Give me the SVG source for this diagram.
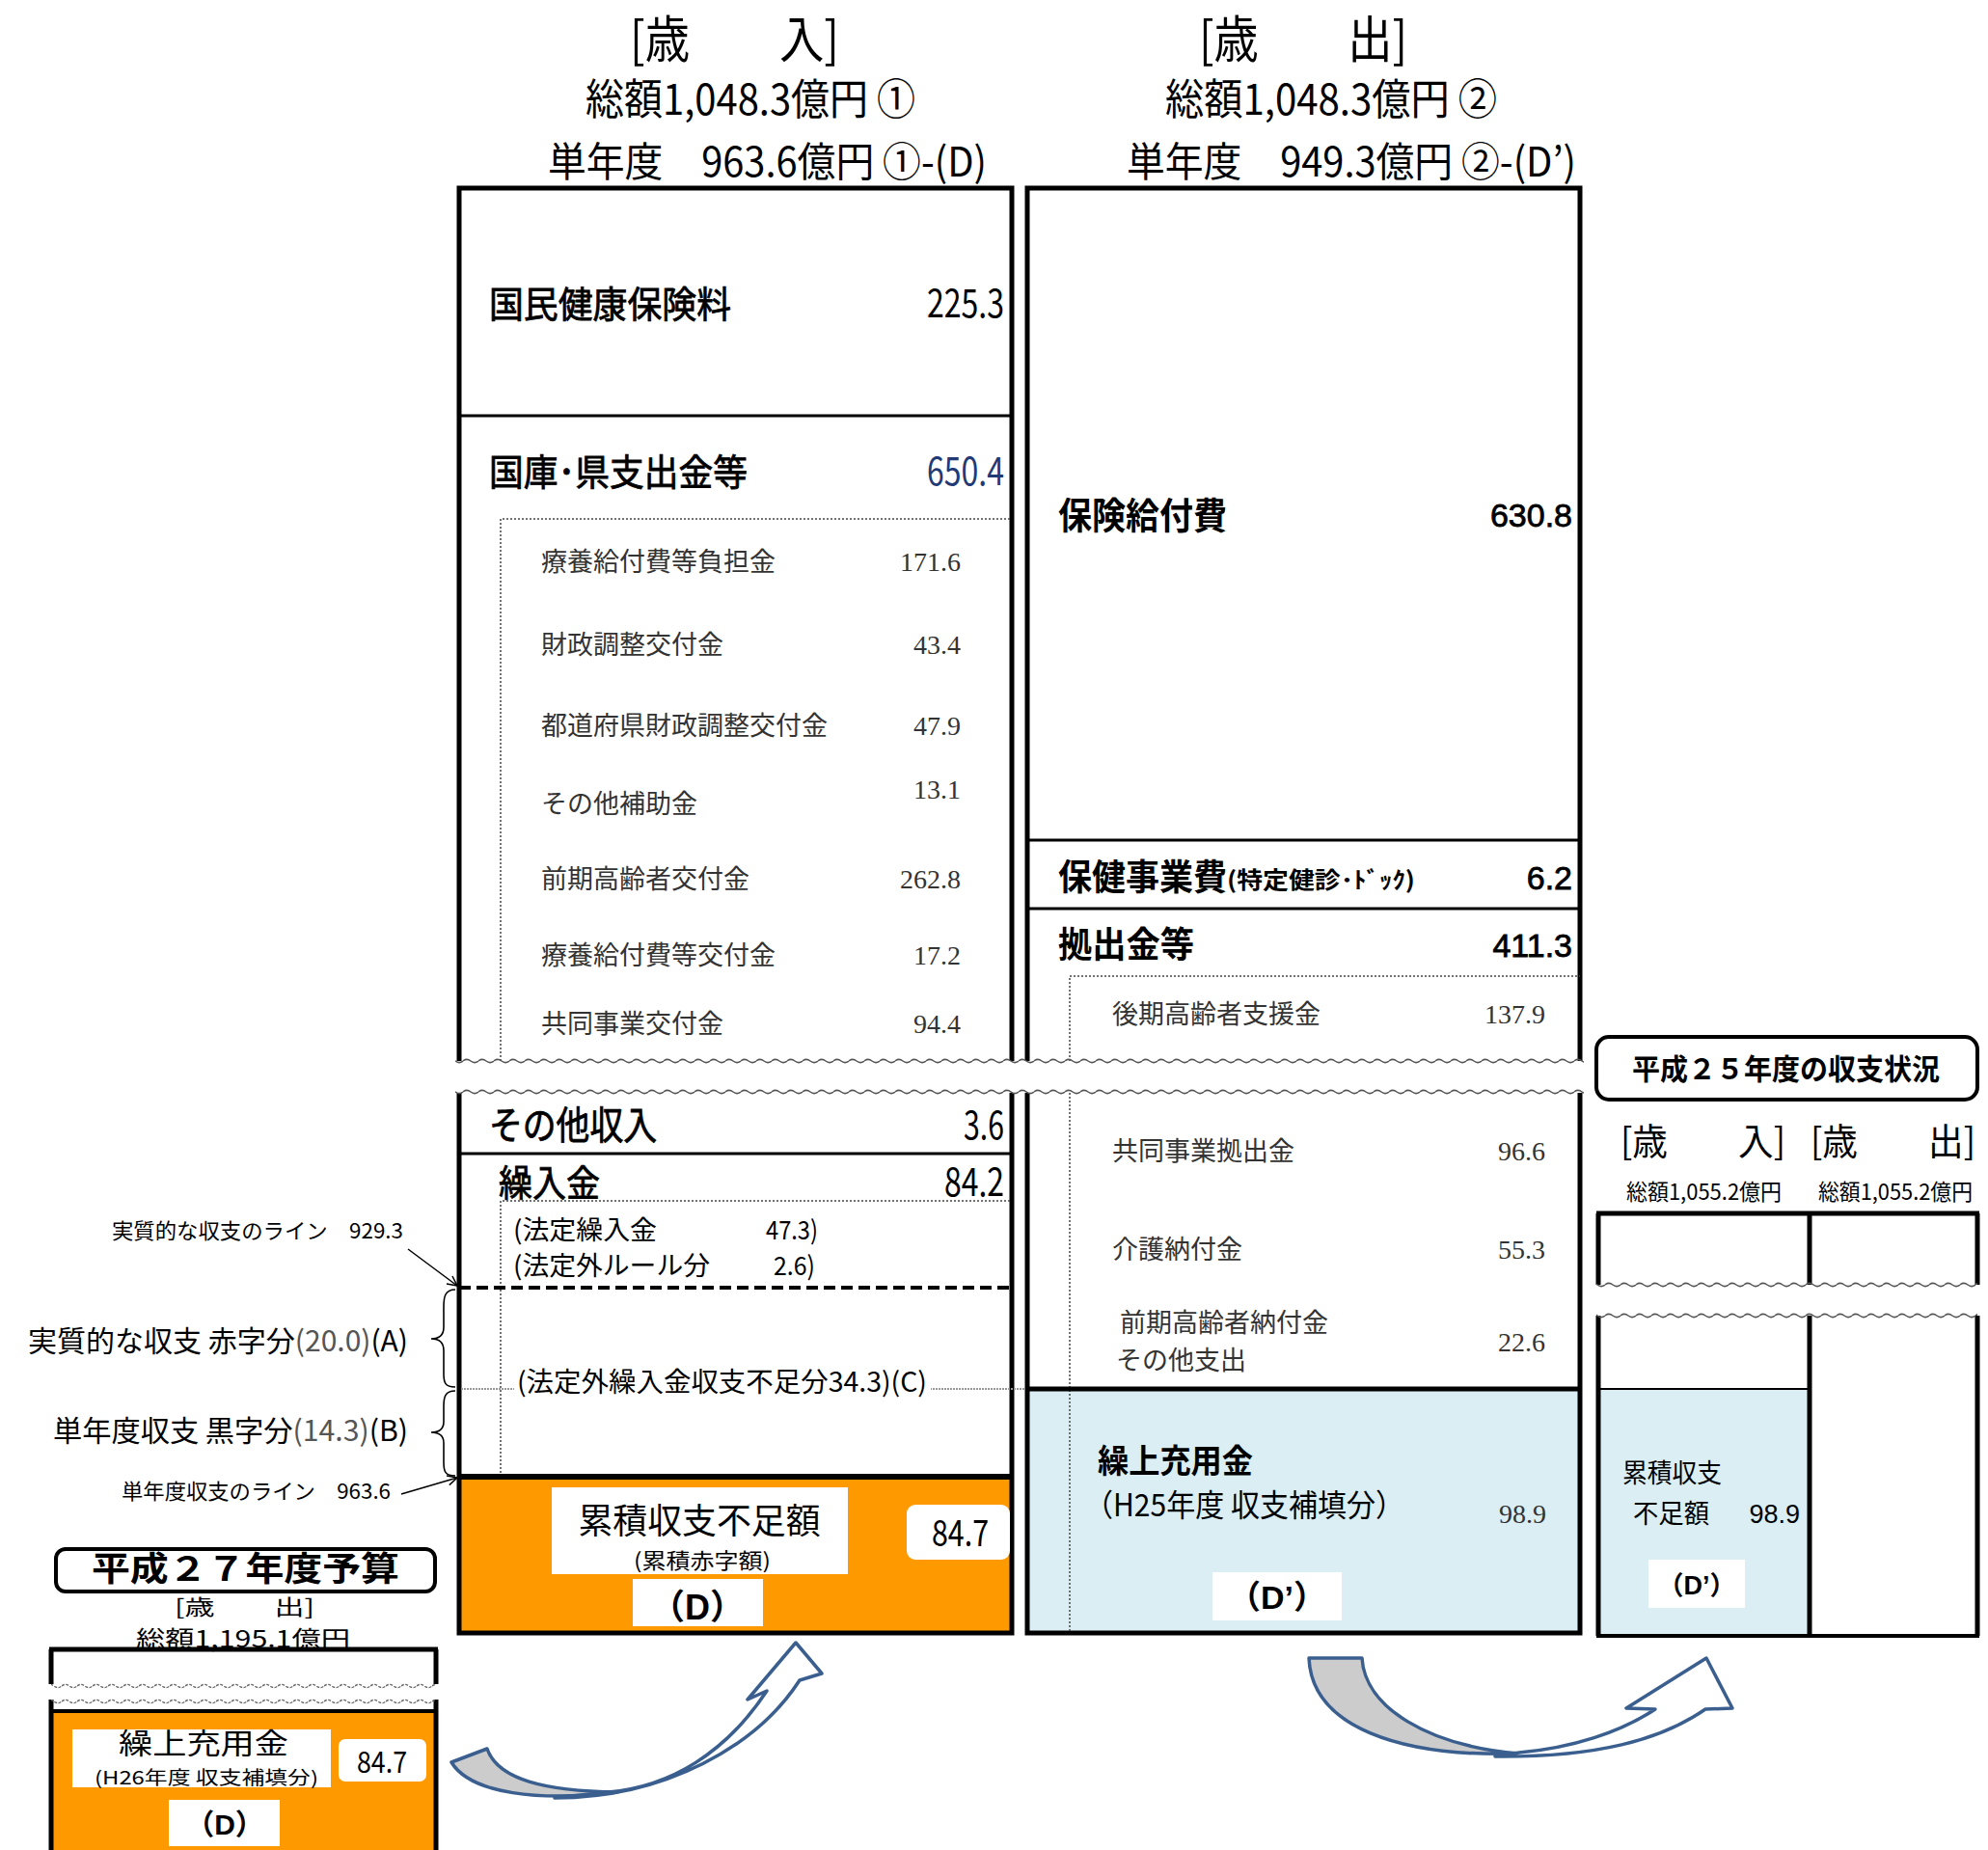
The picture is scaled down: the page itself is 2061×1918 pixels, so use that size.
<svg xmlns="http://www.w3.org/2000/svg" width="2061" height="1918" viewBox="0 0 2061 1918">
<style>
.g{font-family:"Noto Sans CJK JP","Liberation Sans",sans-serif;fill:#000}
.b{font-weight:bold}
.md{stroke:#000;stroke-width:0.8}
.m{font-family:"Liberation Serif","Noto Sans CJK JP",serif;fill:#333;font-size:27px}
.n{font-family:"Liberation Serif",serif;fill:#333;font-size:28px}
.a{font-family:"Liberation Sans","Noto Sans CJK JP",sans-serif;fill:#000}
.thick{stroke:#000;stroke-width:5;fill:none}
.mid{stroke:#000;stroke-width:3;fill:none}
.dot{stroke:#444;stroke-width:1.5;stroke-dasharray:2 2;fill:none}
.wb{fill:#fff}
.arrow{stroke:#3A5F8F;stroke-width:3.5;stroke-linejoin:round}
</style>
<defs>
<pattern id="wave" width="16" height="8" patternUnits="userSpaceOnUse">
<path d="M0,4 Q4,0.8 8,4 T16,4" stroke="#555" stroke-width="1.6" fill="none"/>
</pattern>
<pattern id="waved" width="16" height="8" patternUnits="userSpaceOnUse">
<path d="M0,4 Q4,0.8 8,4 T16,4" stroke="#666" stroke-width="1.4" stroke-dasharray="3 1.5" fill="none"/>
</pattern>
<marker id="ah" viewBox="0 0 12 12" refX="11" refY="6" markerWidth="12" markerHeight="12" markerUnits="userSpaceOnUse" orient="auto">
<path d="M1,1 L11,6 L1,11" stroke="#000" stroke-width="1.5" fill="none"/>
</marker>
</defs>
<rect width="2061" height="1918" fill="#fff"/>

<g id="header-revenue">
<text class="g" x="653" y="60" font-size="52" textLength="217" lengthAdjust="spacingAndGlyphs">[歳　　入]</text>
<text class="g" x="607" y="119" font-size="44" textLength="342" lengthAdjust="spacingAndGlyphs">総額1,048.3億円 ①</text>
<text class="g" x="568" y="183" font-size="42" textLength="455" lengthAdjust="spacingAndGlyphs">単年度　963.6億円 ①-(D)</text>
</g>
<g id="header-expenditure">
<text class="g" x="1243" y="60" font-size="52" textLength="216" lengthAdjust="spacingAndGlyphs">[歳　　出]</text>
<text class="g" x="1208" y="119" font-size="44" textLength="344" lengthAdjust="spacingAndGlyphs">総額1,048.3億円 ②</text>
<text class="g" x="1168" y="183" font-size="42" textLength="466" lengthAdjust="spacingAndGlyphs">単年度　949.3億円 ②-(D’)</text>
</g>

<g id="revenue-column">
<rect x="476" y="1531" width="573" height="162" fill="#FF9900"/>
<path class="thick" d="M476,1100 V195 H1049 V1100"/>
<path class="thick" d="M476,1133 V1693 H1049 V1133"/>
<line class="mid" x1="476" y1="431" x2="1049" y2="431"/>
<text class="g md" x="507" y="329" font-size="38" textLength="251" lengthAdjust="spacingAndGlyphs">国民健康保険料</text>
<text class="g" x="961" y="329" font-size="40" textLength="80" lengthAdjust="spacingAndGlyphs">225.3</text>
<text class="g md" x="507" y="503" font-size="38" textLength="268" lengthAdjust="spacingAndGlyphs">国庫･県支出金等</text>
<text class="g" x="961" y="503" font-size="40" textLength="80" lengthAdjust="spacingAndGlyphs" style="fill:#1F3A75">650.4</text>
<path class="dot" d="M519,1100 V538 H1049"/>
<text class="m" x="561" y="592">療養給付費等負担金</text><text class="n" x="996" y="592" text-anchor="end">171.6</text>
<text class="m" x="561" y="678">財政調整交付金</text><text class="n" x="996" y="678" text-anchor="end">43.4</text>
<text class="m" x="561" y="762">都道府県財政調整交付金</text><text class="n" x="996" y="762" text-anchor="end">47.9</text>
<text class="m" x="561" y="843">その他補助金</text><text class="n" x="996" y="828" text-anchor="end">13.1</text>
<text class="m" x="561" y="921">前期高齢者交付金</text><text class="n" x="996" y="921" text-anchor="end">262.8</text>
<text class="m" x="561" y="1000">療養給付費等交付金</text><text class="n" x="996" y="1000" text-anchor="end">17.2</text>
<text class="m" x="561" y="1071">共同事業交付金</text><text class="n" x="996" y="1071" text-anchor="end">94.4</text>

<text class="g md" x="507" y="1181" font-size="40" textLength="174" lengthAdjust="spacingAndGlyphs">その他収入</text>
<text class="g" x="999" y="1181" font-size="40" textLength="42" lengthAdjust="spacingAndGlyphs">3.6</text>
<line class="mid" x1="476" y1="1196" x2="1049" y2="1196"/>
<text class="g md" x="517" y="1240" font-size="38" textLength="105" lengthAdjust="spacingAndGlyphs">繰入金</text>
<text class="g" x="979" y="1240" font-size="40" textLength="62" lengthAdjust="spacingAndGlyphs">84.2</text>
<path class="dot" d="M519,1531 V1245 H1049"/>
<text class="g" x="532" y="1285" font-size="27" textLength="149" lengthAdjust="spacingAndGlyphs">(法定繰入金</text>
<text class="g" x="794" y="1285" font-size="27" textLength="54" lengthAdjust="spacingAndGlyphs">47.3)</text>
<text class="g" x="532" y="1322" font-size="27" textLength="204" lengthAdjust="spacingAndGlyphs">(法定外ルール分</text>
<text class="g" x="802" y="1322" font-size="27" textLength="43" lengthAdjust="spacingAndGlyphs">2.6)</text>
<line x1="476" y1="1335" x2="1049" y2="1335" stroke="#000" stroke-width="4" stroke-dasharray="12 6"/>
<line x1="478" y1="1440" x2="1063" y2="1440" stroke="#999" stroke-width="2" stroke-dasharray="2 1"/>
<rect x="533" y="1418" width="432" height="34" fill="#fff"/>
<text class="g" x="536" y="1443" font-size="28" textLength="425" lengthAdjust="spacingAndGlyphs">(法定外繰入金収支不足分34.3)(C)</text>
<line x1="476" y1="1531" x2="1049" y2="1531" stroke="#000" stroke-width="6"/>
</g>

<g id="deficit-D">
<rect class="wb" x="572" y="1542" width="307" height="90"/>
<text class="g" x="725" y="1590" font-size="36" text-anchor="middle" textLength="251" lengthAdjust="spacingAndGlyphs">累積収支不足額</text>
<text class="g" x="728" y="1626" font-size="22" text-anchor="middle" textLength="142" lengthAdjust="spacingAndGlyphs">(累積赤字額)</text>
<rect class="wb" x="940" y="1560" width="107" height="57" rx="9"/>
<text class="g" x="966" y="1603" font-size="38" textLength="59" lengthAdjust="spacingAndGlyphs">84.7</text>
<rect class="wb" x="656" y="1637" width="135" height="49"/>
<text class="a b" x="723" y="1679" font-size="36" text-anchor="middle">（D）</text>
</g>

<g id="expenditure-column">
<rect x="1065" y="1440" width="573" height="253" fill="#DAEEF3"/>
<path class="thick" d="M1065,1100 V195 H1638 V1100"/>
<path class="thick" d="M1065,1133 V1693 H1638 V1133"/>
<text class="g b" x="1097" y="548" font-size="38" textLength="175" lengthAdjust="spacingAndGlyphs">保険給付費</text>
<text class="a md" x="1630" y="546" font-size="34" text-anchor="end">630.8</text>
<line class="mid" x1="1065" y1="871" x2="1638" y2="871"/>
<text class="g b" x="1097" y="923" font-size="37" textLength="175" lengthAdjust="spacingAndGlyphs">保健事業費</text>
<text class="g b" x="1272" y="921" font-size="24" textLength="195" lengthAdjust="spacingAndGlyphs">(特定健診･ﾄﾞｯｸ)</text>
<text class="a md" x="1630" y="922" font-size="34" text-anchor="end">6.2</text>
<line class="mid" x1="1065" y1="942" x2="1638" y2="942"/>
<text class="g b" x="1097" y="993" font-size="37" textLength="141" lengthAdjust="spacingAndGlyphs">拠出金等</text>
<text class="a md" x="1630" y="992" font-size="34" text-anchor="end">411.3</text>
<path class="dot" d="M1109,1100 V1012 H1638"/>
<path class="dot" d="M1109,1133 V1693"/>
<text class="m" x="1153" y="1061">後期高齢者支援金</text><text class="n" x="1602" y="1061" text-anchor="end">137.9</text>
<text class="m" x="1153" y="1203">共同事業拠出金</text><text class="n" x="1602" y="1203" text-anchor="end">96.6</text>
<text class="m" x="1153" y="1305">介護納付金</text><text class="n" x="1602" y="1305" text-anchor="end">55.3</text>
<text class="m" x="1161" y="1381">前期高齢者納付金</text>
<text class="m" x="1157" y="1420">その他支出</text><text class="n" x="1602" y="1401" text-anchor="end">22.6</text>
<line x1="1065" y1="1440" x2="1638" y2="1440" stroke="#000" stroke-width="5"/>
</g>

<g id="carryover-Dprime">
<text class="g b" x="1138" y="1527" font-size="34" textLength="161" lengthAdjust="spacingAndGlyphs">繰上充用金</text>
<text class="g" x="1124" y="1572" font-size="32" textLength="332" lengthAdjust="spacingAndGlyphs">（H25年度 収支補填分）</text>
<text class="n" x="1603" y="1579" text-anchor="end">98.9</text>
<rect class="wb" x="1257" y="1630" width="134" height="50"/>
<text class="a b" x="1324" y="1668" font-size="34" text-anchor="middle">（D’）</text>
</g>

<g id="breaks">
<rect x="472" y="1096" width="1170" height="8" fill="url(#wave)"/>
<rect x="472" y="1128" width="1170" height="8" fill="url(#wave)"/>
</g>

<g id="annotations">
<text class="g" x="116" y="1284" font-size="22" textLength="302" lengthAdjust="spacingAndGlyphs">実質的な収支のライン　929.3</text>
<text class="g" x="29" y="1401" font-size="30" textLength="394" lengthAdjust="spacingAndGlyphs">実質的な収支 赤字分<tspan fill="#555">(20.0)</tspan>(A)</text>
<text class="g" x="55" y="1494" font-size="30" textLength="368" lengthAdjust="spacingAndGlyphs">単年度収支 黒字分<tspan fill="#555">(14.3)</tspan>(B)</text>
<text class="g" x="126" y="1554" font-size="22" textLength="279" lengthAdjust="spacingAndGlyphs">単年度収支のライン　963.6</text>
<path d="M472,1337 C461,1337 460,1345 460,1355 L460,1376 C460,1384 456,1388 447,1388 C456,1388 460,1392 460,1400 L460,1424 C460,1433 461,1438 472,1438" stroke="#000" stroke-width="1.6" fill="none"/>
<path d="M472,1442 C461,1442 460,1449 460,1458 L460,1474 C460,1481 456,1485 447,1485 C456,1485 460,1489 460,1496 L460,1516 C460,1525 461,1530 472,1530" stroke="#000" stroke-width="1.6" fill="none"/>
</g>

<g id="connectors">
<line x1="423" y1="1295" x2="474" y2="1333" stroke="#000" stroke-width="1.5" marker-end="url(#ah)"/>
<line x1="416" y1="1549" x2="474" y2="1532" stroke="#000" stroke-width="1.5" marker-end="url(#ah)"/>
<path class="arrow" fill="#CCCCCC" d="M468,1827 L505,1813 C516,1845 565,1857 640,1858 C560,1868 488,1860 468,1827 Z"/>
<path class="arrow" fill="#fff" d="M575,1864 C690,1864 785,1810 829,1742 L852,1735 L825,1703 L775,1762 L795,1753 C752,1818 695,1852 631,1858 Z"/>
<path class="arrow" fill="#CCCCCC" d="M1357,1719 L1412,1719 C1415,1770 1480,1810 1575,1818 C1450,1822 1360,1790 1357,1719 Z"/>
<path class="arrow" fill="#fff" d="M1550,1821 C1655,1822 1722,1804 1768,1772 L1796,1771 L1769,1719 L1686,1771 L1716,1772 C1680,1796 1630,1812 1575,1817 Z"/>
</g>

<g id="h25-status">
<rect x="1655" y="1075" width="395" height="65" rx="13" fill="#fff" stroke="#000" stroke-width="4"/>
<text class="g b" x="1692" y="1119" font-size="30" textLength="319" lengthAdjust="spacingAndGlyphs">平成２５年度の収支状況</text>
<text class="g" x="1680" y="1197" font-size="38" textLength="171" lengthAdjust="spacingAndGlyphs">[歳　　入]</text>
<text class="g" x="1877" y="1197" font-size="38" textLength="171" lengthAdjust="spacingAndGlyphs">[歳　　出]</text>
<text class="g" x="1686" y="1244" font-size="23" textLength="161" lengthAdjust="spacingAndGlyphs">総額1,055.2億円</text>
<text class="g" x="1885" y="1244" font-size="23" textLength="160" lengthAdjust="spacingAndGlyphs">総額1,055.2億円</text>
<rect x="1657" y="1440" width="219" height="256" fill="#DAEEF3"/>
<line x1="1657" y1="1440" x2="1876" y2="1440" stroke="#000" stroke-width="2"/>
<line x1="1655" y1="1258" x2="2052" y2="1258" stroke="#000" stroke-width="5"/>
<path class="thick" d="M1657,1258 V1332 M1876,1258 V1332 M2050,1258 V1332 M1657,1364 V1696 M1876,1364 V1696 M2050,1364 V1696"/>
<line x1="1655" y1="1696" x2="2052" y2="1696" stroke="#000" stroke-width="4"/>
<rect x="1655" y="1328" width="395" height="8" fill="url(#wave)"/>
<rect x="1655" y="1360" width="395" height="8" fill="url(#wave)"/>
<text class="g" x="1682" y="1537" font-size="27" textLength="103" lengthAdjust="spacingAndGlyphs">累積収支</text>
<text class="g" x="1693" y="1579" font-size="27" textLength="79" lengthAdjust="spacingAndGlyphs">不足額</text>
<text class="a" x="1866" y="1579" font-size="27" text-anchor="end">98.9</text>
<rect class="wb" x="1709" y="1617" width="100" height="50"/>
<text class="a b" x="1759" y="1653" font-size="27" text-anchor="middle">（D’）</text>
</g>

<g id="h27-budget">
<rect x="58" y="1606" width="393" height="44" rx="10" fill="#fff" stroke="#000" stroke-width="4"/>
<text class="g b" x="95" y="1639" font-size="35" textLength="319" lengthAdjust="spacingAndGlyphs">平成２７年度予算</text>
<text class="g" x="181" y="1674" font-size="22" textLength="145" lengthAdjust="spacingAndGlyphs">[歳　　出]</text>
<text class="g" x="141" y="1708" font-size="24" textLength="222" lengthAdjust="spacingAndGlyphs">総額1,195.1億円</text>
<rect x="53" y="1774" width="399" height="144" fill="#FF9900"/>
<line x1="51" y1="1710" x2="454" y2="1710" stroke="#000" stroke-width="5"/>
<path class="thick" d="M53,1710 V1746 M452,1710 V1746 M53,1762 V1918 M452,1762 V1918"/>
<line x1="53" y1="1774" x2="452" y2="1774" stroke="#000" stroke-width="4"/>
<rect x="53" y="1744" width="399" height="8" fill="url(#waved)"/>
<rect x="53" y="1760" width="399" height="8" fill="url(#waved)"/>
<rect class="wb" x="75" y="1793" width="268" height="60"/>
<text class="g" x="211" y="1818" font-size="30" text-anchor="middle" textLength="176" lengthAdjust="spacingAndGlyphs">繰上充用金</text>
<text class="g" x="214" y="1850" font-size="19" text-anchor="middle" textLength="232" lengthAdjust="spacingAndGlyphs">(H26年度 収支補填分)</text>
<rect class="wb" x="351" y="1803" width="91" height="44" rx="7"/>
<text class="g" x="370" y="1838" font-size="30" textLength="52" lengthAdjust="spacingAndGlyphs">84.7</text>
<rect class="wb" x="175" y="1866" width="115" height="48"/>
<text class="a b" x="233" y="1902" font-size="30" text-anchor="middle">（D）</text>
</g>
</svg>
